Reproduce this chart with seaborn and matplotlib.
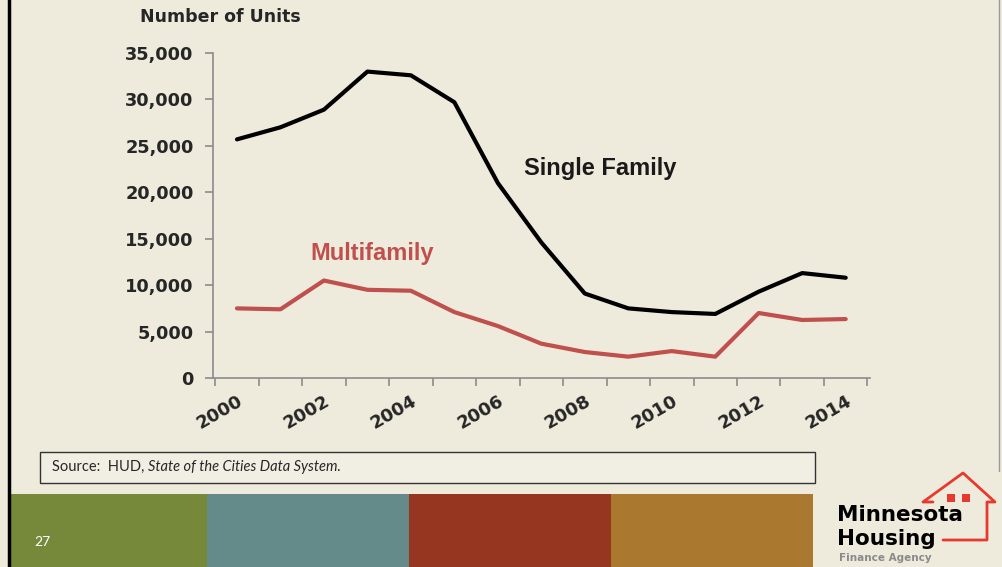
import pandas as pd
import matplotlib.pyplot as plt
import seaborn as sns
from matplotlib.patches import Rectangle
from matplotlib.lines import Line2D

# Datos
anios = list(range(2000, 2015))
single_family = [25700, 27000, 28900, 33000, 32600, 29700, 21000, 14600,
                 9100, 7500, 7100, 6900, 9300, 11300, 10800]
multifamily = [7500, 7400, 10500, 9500, 9400, 7100, 5600, 3700,
               2800, 2300, 2900, 2300, 7000, 6250, 6350]
etiquetas_x = [str(a) for a in range(2000, 2015, 2)]
ticks_y = [0, 5000, 10000, 15000, 20000, 25000, 30000, 35000]

fondo = '#EEEBDC'
rojo = '#C0504D'

data = pd.DataFrame({'anio': anios * 2,
                     'unidades': single_family + multifamily,
                     'serie': ['Single Family'] * 15 + ['Multifamily'] * 15})

sns.set_style('white')
plt.rcParams['font.family'] = ['DejaVu Sans']

fig = plt.figure(figsize=(10.03, 5.67), dpi=100, facecolor=fondo)
ax = fig.add_axes([0.2124, 0.3333, 0.867 - 0.2124, 0.9065 - 0.3333])
ax.set_facecolor(fondo)

sns.lineplot(data=data, x='anio', y='unidades', hue='serie',
             palette={'Single Family': 'black', 'Multifamily': rojo},
             linewidth=3, legend=False, ax=ax)

ax.set_xlim(1999.45, 2014.55)
ax.set_ylim(0, 35000)
ax.set_xlabel('')
ax.set_ylabel('')

# ejes
for lado in ['top', 'right']:
    ax.spines[lado].set_visible(False)
for lado in ['left', 'bottom']:
    ax.spines[lado].set_color('#8C8C8C')
    ax.spines[lado].set_linewidth(1.2)

ax.set_yticks(ticks_y)
ax.set_yticklabels([f'{v:,}' for v in ticks_y], fontsize=12.8, fontweight='bold')
ax.tick_params(axis='y', left=True, direction='out', length=6, width=1.2,
               color='#8C8C8C', pad=8)

limites = [a - 0.5 for a in anios] + [anios[-1] + 0.5]
ax.set_xticks(limites)
ax.set_xticklabels([])
ax.tick_params(axis='x', which='major', bottom=True, direction='out', length=6,
               width=1.2, color='#8C8C8C')
ax.set_xticks([int(e) for e in etiquetas_x], minor=True)
ax.set_xticklabels(etiquetas_x, minor=True, rotation=30, ha='right', va='top',
                   rotation_mode='anchor', fontsize=13, fontweight='bold')
ax.tick_params(axis='x', which='minor', bottom=True, length=0, pad=10)

ax.text(2008.35, 22600, 'Single Family', fontsize=17, fontweight='bold',
        family='Liberation Sans', color='#1a1a1a', ha='center', va='center')
ax.text(2003.1, 13400, 'Multifamily', fontsize=17, fontweight='bold',
        family='Liberation Sans', color=rojo, ha='center', va='center')

fig.text(0.2193, 0.970, 'Number of Units', fontsize=12.5, fontweight='bold',
         ha='center', va='center')

# marco izquierdo y derecho
fig.add_artist(Line2D([0.0085, 0.0085], [0, 1], color='black', lw=2.5))
fig.add_artist(Line2D([0.996, 0.996], [0.17, 1], color='#9a9a9a', lw=1))

# caja de la fuente
fig.add_artist(Rectangle((40 / 1003, 1 - 483 / 567), 775 / 1003, 31 / 567,
                         facecolor='#F1EFE3', edgecolor='#333333', lw=1))
t1 = fig.text(52 / 1003, 1 - 467 / 567, 'Source:  HUD, ', fontsize=10.5,
              family='Lato', va='center')
fig.canvas.draw()
bb = t1.get_window_extent(fig.canvas.get_renderer())
fig.text(bb.x1 / fig.bbox.width, 1 - 467 / 567, 'State of the Cities Data System.',
         fontsize=10.5, family='Lato', style='italic', va='center')

# franjas de colores
colores = ['#76883A', '#658A8A', '#963621', '#AA782E']
bordes = [10, 207, 409, 611, 813]
for i, c in enumerate(colores):
    fig.add_artist(Rectangle((bordes[i] / 1003, 0), (bordes[i + 1] - bordes[i]) / 1003,
                             73 / 567, facecolor=c, edgecolor='none'))
fig.text(42 / 1003, 1 - 542 / 567, '27', color='white', fontsize=10, family='Lato',
         ha='center', va='center')

# logo
casa_x = [943, 987, 987, 995, 963, 923, 933]
casa_y = [540, 540, 502, 502, 473, 502, 502]
fig.add_artist(Line2D([x / 1003 for x in casa_x], [1 - y / 567 for y in casa_y],
                      color='#E8392F', lw=2))
for wx in [947, 962]:
    fig.add_artist(Rectangle((wx / 1003, 1 - 502 / 567), 8 / 1003, 8 / 567,
                             facecolor='#E8392F', edgecolor='none'))
fig.text(837 / 1003, 1 - 515 / 567, 'Minnesota', fontsize=15.5, fontweight='bold',
         color='black', ha='left', va='center')
fig.text(837 / 1003, 1 - 539 / 567, 'Housing', fontsize=15.5, fontweight='bold',
         color='black', ha='left', va='center')
fig.text(839 / 1003, 1 - 558 / 567, 'Finance Agency', fontsize=7.5, fontweight='bold',
         color='#8a8a8a', ha='left', va='center')

fig.savefig('out.png', dpi=100, facecolor=fondo)
